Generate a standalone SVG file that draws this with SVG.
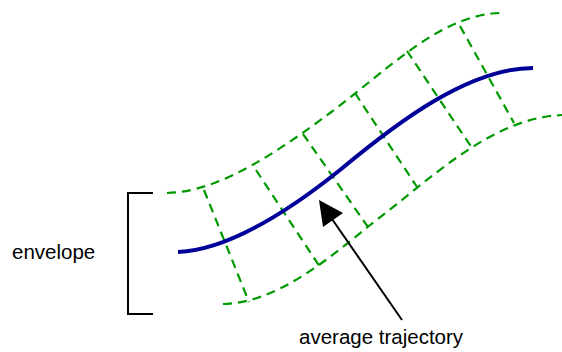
<svg xmlns="http://www.w3.org/2000/svg" width="562" height="352" viewBox="0 0 562 352">
<style>
.env{fill:none;stroke:#009900;stroke-width:2.2;stroke-dasharray:9,6}
.traj{fill:none;stroke:#000099;stroke-width:4}
.blk{fill:none;stroke:#000;stroke-width:2}
text{font-family:"Liberation Sans",Arial,sans-serif;fill:#000;font-size:20.5px}
</style>
<g id="envelope-grid">
<path class="env" d="M167,193 C220,192 280,150 330,113 C390,68 440,15 500,13"/>
<path class="env" d="M223,304 C275,303 325,262 370,225 C430,180 490,118 562,115"/>
<path class="env" d="M204,190 L249,302"/>
<path class="env" d="M256,170 L320,267"/>
<path class="env" d="M303,134 L368,227"/>
<path class="env" d="M355,93 L417,187"/>
<path class="env" d="M407,51 L472,148"/>
<path class="env" d="M460,26 L514,123"/>
</g>
<g id="trajectory">
<path class="traj" d="M178,252 C230,250 290,210 340,170 C400,120 470,68 533,68"/>
</g>
<g id="bracket">
<path class="blk" d="M153,193 H128 V314 H153"/>
<text x="12" y="259">envelope</text>
</g>
<g id="connectors">
<path class="blk" d="M402,320 L332,219"/>
<polygon points="319,200 343,213 323,227" fill="#000"/>
</g>
<g id="label">
<text x="299" y="344">average trajectory</text>
</g>
</svg>
